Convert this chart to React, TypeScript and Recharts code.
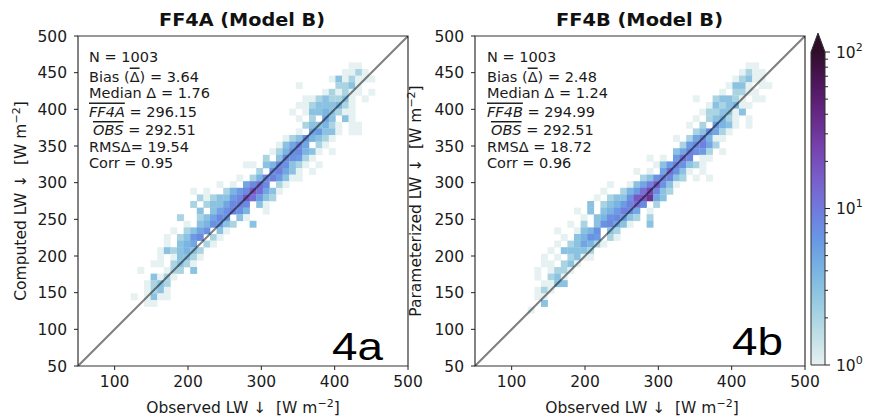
import React from "react";
import {
  ScatterChart,
  Scatter,
  XAxis,
  YAxis,
  ReferenceArea,
} from "recharts";

const AXIS_MIN = 50;
const AXIS_MAX = 500;
const BIN = 9; // W m-2 per histogram bin
const PLOT = 330; // plot area size in px

const yTicks = [50, 100, 150, 200, 250, 300, 350, 400, 450, 500];
const xTicks = [100, 200, 300, 400, 500];
const oneToOne = [
  { x: 50, y: 50 },
  { x: 500, y: 500 },
];

// count codes used in the row strings below ("." = empty bin)
const levelCodes = "123456789abcde";
const levelCounts = [1, 2, 3, 3, 4, 5, 6, 7, 8, 9, 12, 17, 22, 32];

// [y bin, first x bin, counts per x bin]
const ff4aRows: [number, number, string][] = [
  [45, 41, "11"],
  [44, 40, "1121"],
  [43, 38, "1312111"],
  [42, 33, "1.....2231"],
  [41, 37, "121211.1"],
  [40, 34, "11242231.1"],
  [39, 33, "112333521"],
  [38, 32, "1.13454211"],
  [37, 33, "1.2.63.31"],
  [36, 34, "243521.11"],
  [35, 33, "1.67341.11"],
  [34, 31, "12385321"],
  [33, 30, "13696.21"],
  [32, 29, "12589531.1"],
  [31, 28, "2.498721"],
  [30, 25, "11.3598421.1"],
  [29, 27, "2.8a631.1"],
  [28, 24, "1.259a7311"],
  [27, 21, "1.1.69b9.21"],
  [26, 17, "1.1..2579cb631"],
  [25, 18, "2123479cb742"],
  [24, 17, "2.23469a9.31"],
  [23, 18, "3.468a85..1"],
  [22, 15, "2..24698.31"],
  [21, 16, "1.358742..3"],
  [20, 14, "1.2368.31"],
  [19, 13, "1.2479.21"],
  [18, 13, "1.356.21"],
  [17, 12, "1423532"],
  [16, 12, "1.13421"],
  [15, 11, "11.2421"],
  [14, 9, "1...122.4"],
  [13, 11, "4121"],
  [12, 10, "1232"],
  [11, 10, "1241"],
  [10, 8, "1.1311"],
  [9, 10, "11"],
];

const ff4bRows: [number, number, string][] = [
  [45, 41, "11"],
  [44, 40, "1211"],
  [43, 39, "12311"],
  [42, 38, "1431.11"],
  [41, 37, "1.2211"],
  [40, 33, "1..24421.11"],
  [39, 35, "1323511"],
  [38, 34, "1223414"],
  [37, 33, "1.23521.1"],
  [36, 32, "1.2.7541.1"],
  [35, 33, "238621"],
  [34, 30, "1.269511"],
  [33, 31, "279a62"],
  [32, 30, "36a872.1"],
  [31, 26, "1.1.7b9.11"],
  [30, 27, "137a8421"],
  [29, 24, "1.1.6b831.1"],
  [28, 25, "248a942.1.1"],
  [27, 20, "1..136ac831"],
  [26, 19, "1..257bd942"],
  [25, 18, "1.2348cce63"],
  [24, 17, "3.2357ab9.2"],
  [23, 15, "1.3.357a96.1"],
  [22, 16, "1.4589742.2"],
  [21, 14, "1.2.489631..4"],
  [20, 12, "1..1358.42"],
  [19, 13, "1.3587.21"],
  [18, 12, "1.246521"],
  [17, 11, "1.43432"],
  [16, 10, "1.1.2311"],
  [15, 10, "11.231"],
  [14, 9, "1.1221"],
  [13, 9, "1.231"],
  [12, 10, "1143"],
  [11, 9, "121"],
  [10, 9, "11"],
  [9, 10, "4"],
  [8, 8, "1"],
];

const ff4aStats = ["1003", "3.64", "1.76", "296.15", "292.51", "19.54", "0.95"];
const ff4bStats = ["1003", "2.48", "1.24", "294.99", "292.51", "18.72", "0.96"];

// cmocean "dense"-like colour ramp
const densStops = [
  [230, 241, 241],
  [190, 222, 230],
  [152, 203, 225],
  [122, 180, 226],
  [104, 152, 228],
  [113, 121, 221],
  [121, 93, 200],
  [117, 65, 170],
  [101, 40, 134],
  [78, 22, 92],
  [48, 14, 42],
];

function rampColor(t: number) {
  const p = Math.min(1, Math.max(0, t)) * 10;
  const i = Math.min(9, Math.floor(p));
  const f = p - i;
  const a = densStops[i];
  const b = densStops[i + 1];
  const c = a.map((v, k) => Math.round(v + (b[k] - v) * f));
  return `rgb(${c[0]},${c[1]},${c[2]})`;
}

const countColor = (n: number) => rampColor(Math.log10(n) / 2);

function toCells(rows: [number, number, string][]) {
  const cells: { x: number; y: number; n: number }[] = [];
  rows.forEach(([yBin, xStart, levels]) => {
    levels.split("").forEach((ch, i) => {
      const idx = levelCodes.indexOf(ch);
      if (idx < 0) return;
      cells.push({
        x: AXIS_MIN + (xStart + i + 0.5) * BIN,
        y: AXIS_MIN + (yBin + 0.5) * BIN,
        n: levelCounts[idx],
      });
    });
  });
  return cells;
}

const cellPx = (PLOT / (AXIS_MAX - AXIS_MIN)) * BIN;

const BinRect = (props: any) => {
  const { cx, cy, payload } = props;
  return (
    <rect
      x={cx - cellPx / 2}
      y={cy - cellPx / 2}
      width={cellPx + 0.3}
      height={cellPx + 0.3}
      fill={countColor(payload.n)}
    />
  );
};

const NoDot = () => <g />;

const tickFont = { fontSize: 15.5, fill: "#1a1a1a", fontFamily: "DejaVu Sans" };

function Panel({ rows, left, yWidth }: { rows: [number, number, string][]; left: number; yWidth: number }) {
  const cells = toCells(rows);
  return (
    <div style={{ position: "absolute", left, top: 0 }}>
      <ScatterChart
        width={440}
        height={417}
        margin={{ top: 36, right: 440 - yWidth - PLOT, bottom: 0, left: 0 }}
      >
        <XAxis
          type="number"
          dataKey="x"
          domain={[AXIS_MIN, AXIS_MAX]}
          ticks={xTicks}
          interval={0}
          height={51}
          axisLine={false}
          tickSize={4}
          tickMargin={6}
          tickLine={{ stroke: "#222" }}
          tick={tickFont}
          allowDataOverflow
        />
        <YAxis
          type="number"
          dataKey="y"
          domain={[AXIS_MIN, AXIS_MAX]}
          ticks={yTicks}
          interval={0}
          width={yWidth}
          axisLine={false}
          tickSize={4}
          tickMargin={7}
          tickLine={{ stroke: "#222" }}
          tick={tickFont}
          allowDataOverflow
        />
        <Scatter data={cells} shape={BinRect} isAnimationActive={false} />
        <Scatter
          data={oneToOne}
          line={{ stroke: "#000", strokeOpacity: 0.5, strokeWidth: 2 }}
          shape={NoDot}
          isAnimationActive={false}
        />
        <ReferenceArea
          x1={AXIS_MIN}
          x2={AXIS_MAX}
          y1={AXIS_MIN}
          y2={AXIS_MAX}
          fill="none"
          stroke="#333"
          strokeWidth={1.2}
        />
      </ScatterChart>
    </div>
  );
}

const statY = [61.5, 81.5, 98, 116.5, 135, 151.5, 168];

function Stats({ x, name, s, rmsGap }: { x: number; name: string; s: string[]; rmsGap: string }) {
  const over = { textDecoration: "overline" } as React.CSSProperties;
  return (
    <g fontFamily="DejaVu Sans" fontSize={14.5} fill="#1a1a1a" style={{ whiteSpace: "pre" }}>
      <text x={x} y={statY[0]}>N = {s[0]}</text>
      <text x={x} y={statY[1]}>
        Bias (<tspan style={over}>Δ</tspan>) = {s[1]}
      </text>
      <text x={x} y={statY[2]}>Median Δ = {s[2]}</text>
      <text x={x} y={statY[3]}>
        <tspan style={over} fontStyle="italic">{name}</tspan> = {s[3]}
      </text>
      <text x={x + 4} y={statY[4]}>
        <tspan style={over} fontStyle="italic">OBS</tspan> = {s[4]}
      </text>
      <text x={x} y={statY[5]}>RMSΔ{rmsGap}= {s[5]}</text>
      <text x={x} y={statY[6]}>Corr = {s[6]}</text>
    </g>
  );
}

function AxisLabel({ x, y, text, rotate }: { x: number; y: number; text: string; rotate?: boolean }) {
  return (
    <text
      transform={`translate(${x},${y})${rotate ? " rotate(-90)" : ""}`}
      textAnchor="middle"
      fontFamily="DejaVu Sans"
      fontSize={15.5}
      fill="#1a1a1a"
      style={{ whiteSpace: "pre" }}
    >
      {text} [W m<tspan dy={-6} fontSize={11}>−2</tspan>
      <tspan dy={6}>]</tspan>
    </text>
  );
}

const cbTicks = [0, 1, 2];
const cbMinor = [2, 3, 4, 5, 6, 7, 8, 9];

function ColorBar() {
  const x0 = 811;
  const w = 14;
  const top = 52;
  const bottom = 365;
  const h = bottom - top;
  const stops = Array.from({ length: 11 }, (_, i) => i / 10);
  const yOf = (t: number) => bottom - t * h;
  return (
    <g>
      <defs>
        <linearGradient id="cb" x1="0" y1="1" x2="0" y2="0">
          {stops.map((t) => (
            <stop key={t} offset={t} stopColor={rampColor(t)} />
          ))}
        </linearGradient>
      </defs>
      <rect x={x0} y={top} width={w} height={h} fill="url(#cb)" />
      <polygon points={`${x0},${top} ${x0 + w / 2},${33} ${x0 + w},${top}`} fill={rampColor(1)} />
      <polygon
        points={`${x0},${bottom} ${x0},${top} ${x0 + w / 2},${33} ${x0 + w},${top} ${x0 + w},${bottom}`}
        fill="none"
        stroke="#333"
        strokeWidth={1}
      />
      {cbTicks.map((d) => (
        <g key={d}>
          <line x1={x0 + w} x2={x0 + w + 5} y1={yOf(d / 2)} y2={yOf(d / 2)} stroke="#222" />
          <text
            x={x0 + w + 11}
            y={yOf(d / 2) + 5.5}
            fontFamily="DejaVu Sans"
            fontSize={15.5}
            fill="#1a1a1a"
          >
            10<tspan dy={-7} fontSize={11}>{d}</tspan>
          </text>
        </g>
      ))}
      {[0, 1].flatMap((d) =>
        cbMinor.map((k) => {
          const y = yOf((d + Math.log10(k)) / 2);
          return <line key={`${d}-${k}`} x1={x0 + w} x2={x0 + w + 3} y1={y} y2={y} stroke="#222" />;
        })
      )}
    </g>
  );
}

export default function App() {
  return (
    <div style={{ position: "absolute", left: 0, top: 0, width: 870, height: 417, background: "#fff" }}>
      <Panel rows={ff4aRows} left={0} yWidth={78} />
      <Panel rows={ff4bRows} left={420} yWidth={55} />
      <svg
        width={870}
        height={417}
        style={{ position: "absolute", left: 0, top: 0, pointerEvents: "none" }}
      >
        <text
          x={159}
          y={26}
          textLength={166}
          lengthAdjust="spacingAndGlyphs"
          fontFamily="DejaVu Sans"
          fontWeight="bold"
          fontSize={17.5}
          fill="#111"
        >
          FF4A (Model B)
        </text>
        <text
          x={556}
          y={26}
          textLength={167}
          lengthAdjust="spacingAndGlyphs"
          fontFamily="DejaVu Sans"
          fontWeight="bold"
          fontSize={17.5}
          fill="#111"
        >
          FF4B (Model B)
        </text>
        <Stats x={89} name="FF4A" s={ff4aStats} rmsGap="" />
        <Stats x={487} name="FF4B" s={ff4bStats} rmsGap=" " />
        <text x={332} y={360} textLength={51} lengthAdjust="spacingAndGlyphs" fontFamily="Liberation Sans" fontSize={38} fill="#000">
          4a
        </text>
        <text x={732} y={355} textLength={51} lengthAdjust="spacingAndGlyphs" fontFamily="Liberation Sans" fontSize={38} fill="#000">
          4b
        </text>
        <AxisLabel x={26} y={201} text="Computed LW ↓ " rotate />
        <AxisLabel x={421} y={201} text="Parameterized LW ↓ " rotate />
        <AxisLabel x={243} y={413} text="Observed LW ↓ " />
        <AxisLabel x={642} y={413} text="Observed LW ↓ " />
        <ColorBar />
      </svg>
    </div>
  );
}
